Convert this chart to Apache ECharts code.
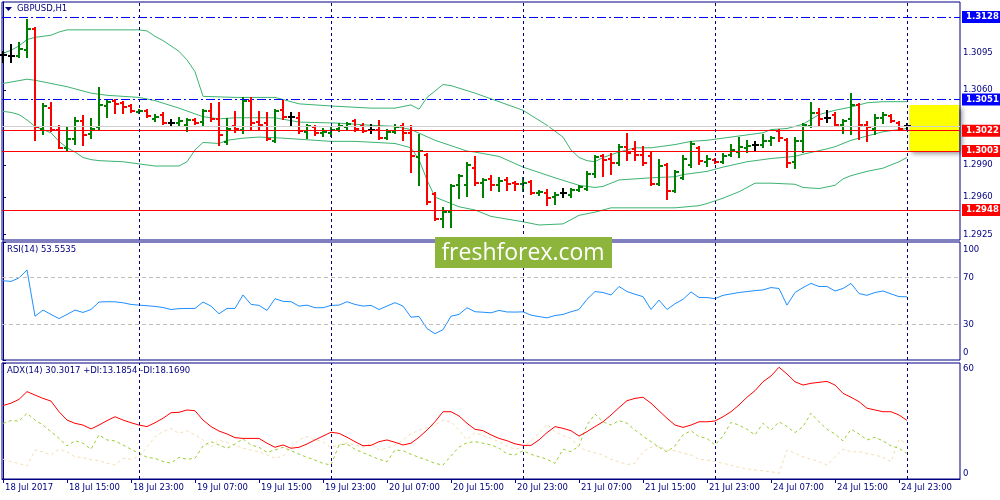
<!DOCTYPE html>
<html>
<head>
<meta charset="utf-8">
<script src="https://cdn.jsdelivr.net/npm/echarts@6/dist/echarts.min.js"></script>
<style>
  html, body { margin: 0; padding: 0; background: #fff; }
  #chart { width: 1000px; height: 500px; }
</style>
</head>
<body>
<div id="chart"></div>
<script>
// GBPUSD H1, bars 18 Jul 07:00 .. 25 Jul 00:00 (bar index 0..113)
const opens = [1.3093,1.3092,1.3092,1.3097,1.3117,1.3024,1.3043,1.3023,1.3006,1.3014,
  1.3031,1.3019,1.3025,1.3045,1.3050,1.3048,1.3045,1.3039,1.3040,1.3033,
  1.3037,1.3029,1.3029,1.3027,1.3032,1.3030,1.3040,1.3033,1.3011,1.3026,
  1.3023,1.3050,1.3030,1.3029,1.3012,1.3041,1.3035,1.3034,1.3021,1.3025,
  1.3020,1.3020,1.3024,1.3025,1.3031,1.3026,1.3023,1.3023,1.3015,1.3021,
  1.3026,1.3020,1.2997,1.2999,1.2963,1.2940,1.2946,1.2971,1.2971,1.2987,
  1.2973,1.2977,1.2971,1.2976,1.2973,1.2972,1.2974,1.2964,1.2964,1.2960,
  1.2964,1.2962,1.2967,1.2968,1.2982,1.2998,1.2996,1.2992,1.3007,1.3005,
  1.2999,1.2998,1.2972,1.2990,1.2966,1.2978,1.2990,1.3006,1.2993,1.2995,
  1.2993,1.2999,1.3002,1.3006,1.3009,1.3009,1.3012,1.3022,1.3013,1.2993,
  1.3012,1.3026,1.3038,1.3034,1.3037,1.3027,1.3033,1.3046,1.3027,1.3024,
  1.3034,1.3036,1.3029,1.3026];
const highs = [1.3095,1.3102,1.3104,1.3125,1.3118,1.3047,1.3048,1.3026,1.3025,1.3034,
  1.3036,1.3033,1.3062,1.3050,1.3051,1.3049,1.3046,1.3041,1.3041,1.3037,
  1.3038,1.3032,1.3034,1.3033,1.3033,1.3041,1.3047,1.3048,1.3033,1.3039,
  1.3052,1.3052,1.3039,1.3038,1.3041,1.3050,1.3038,1.3038,1.3027,1.3026,
  1.3024,1.3025,1.3028,1.3029,1.3032,1.3028,1.3027,1.3031,1.3023,1.3027,
  1.3028,1.3026,1.3018,1.3000,1.2964,1.2950,1.2971,1.2981,1.2992,1.2997,
  1.2977,1.2980,1.2978,1.2978,1.2974,1.2978,1.2975,1.2966,1.2967,1.2964,
  1.2968,1.2968,1.2970,1.2983,1.2998,1.2999,1.3000,1.3009,1.3019,1.3011,
  1.3007,1.3001,1.2995,1.2991,1.2984,1.2998,1.3011,1.3007,1.2998,1.2996,
  1.3000,1.3009,1.3015,1.3012,1.3011,1.3018,1.3016,1.3023,1.3014,1.3015,
  1.3028,1.3048,1.3042,1.3040,1.3038,1.3032,1.3056,1.3047,1.3030,1.3037,
  1.3038,1.3037,1.3030,1.3028];
const lows = [1.3086,1.3086,1.3091,1.3091,1.3013,1.3019,1.3022,1.3006,1.3004,1.3010,
  1.3009,1.3015,1.3024,1.3035,1.3038,1.3038,1.3039,1.3038,1.3035,1.3031,
  1.3028,1.3026,1.3026,1.3022,1.3028,1.3027,1.3031,1.3009,1.3010,1.3021,
  1.3020,1.3023,1.3024,1.3013,1.3011,1.3033,1.3027,1.3020,1.3015,1.3018,
  1.3017,1.3017,1.3022,1.3024,1.3022,1.3021,1.3020,1.3014,1.3014,1.3020,
  1.3013,1.2983,1.2971,1.2954,1.2939,1.2932,1.2932,1.2959,1.2961,1.2971,
  1.2960,1.2967,1.2966,1.2967,1.2967,1.2966,1.2963,1.2962,1.2953,1.2954,
  1.2960,1.2960,1.2966,1.2967,1.2979,1.2980,1.2982,1.2990,1.2995,1.2995,
  1.2990,1.2971,1.2971,1.2958,1.2965,1.2977,1.2988,1.2991,1.2989,1.2992,
  1.2992,1.2998,1.2997,1.3002,1.3004,1.3007,1.3009,1.3012,1.2988,1.2987,
  1.3002,1.3025,1.3027,1.3030,1.3026,1.3020,1.3019,1.3014,1.3012,1.3019,
  1.3029,1.3030,1.3023,1.3023];
const closes = [1.3093,1.3092,1.3098,1.3117,1.3025,1.3045,1.3023,1.3006,1.3014,1.3031,
  1.3018,1.3024,1.3046,1.3049,1.3047,1.3044,1.3040,1.3040,1.3036,1.3035,
  1.3029,1.3029,1.3031,1.3032,1.3029,1.3040,1.3033,1.3018,1.3024,1.3024,
  1.3050,1.3029,1.3027,1.3014,1.3040,1.3035,1.3035,1.3022,1.3026,1.3020,
  1.3021,1.3023,1.3026,1.3028,1.3024,1.3022,1.3023,1.3015,1.3021,1.3025,
  1.3020,1.2998,1.3003,1.2955,1.2940,1.2946,1.2970,1.2980,1.2990,1.2973,
  1.2976,1.2971,1.2975,1.2972,1.2972,1.2973,1.2964,1.2965,1.2959,1.2962,
  1.2964,1.2967,1.2969,1.2982,1.2997,1.2995,1.2992,1.3007,1.3001,1.2999,
  1.2992,1.2972,1.2989,1.2966,1.2983,1.2996,1.3010,1.2994,1.2996,1.2993,
  1.2998,1.3004,1.3007,1.3008,1.3009,1.3012,1.3015,1.3015,1.2992,1.3012,
  1.3027,1.3038,1.3033,1.3034,1.3027,1.3031,1.3046,1.3027,1.3025,1.3034,
  1.3037,1.3031,1.3024,1.3026];

// Bollinger bands, [bar, price]
const bbUpper = [[0,1.3094],[1,1.3097],[2,1.3101],[3,1.3107],[4,1.3109],[6,1.3111],[7,1.3114],[8,1.3116],
  [17,1.3116],[18,1.3115],[19,1.3110],[20,1.3106],[21,1.3101],[22,1.3096],[23,1.3088],[24,1.3077],
  [25,1.3054],[29,1.3053],[34,1.3053],[36,1.3049],[37,1.3047],[41,1.3045],[46,1.3043],[49,1.3043],
  [51,1.3046],[52,1.3042],[53,1.3053],[55,1.3065],[56,1.3064],[59,1.3057],[62,1.3049],[65,1.3041],
  [68,1.3027],[70,1.3016],[71,1.3004],[72,1.2997],[73,1.2994],[74,1.2993],[75,1.2997],[77,1.3002],
  [79,1.3006],[81,1.3006],[84,1.3009],[86,1.3012],[88,1.3013],[91,1.3016],[93,1.3018],[95,1.3020],
  [96,1.3023],[98,1.3024],[100,1.3028],[102,1.3037],[104,1.3041],[106,1.3044],[108,1.3048],[110,1.3049],[113,1.3049]];
const bbMiddle = [[0,1.3066],[3,1.3070],[4,1.3069],[6,1.3066],[8,1.3063],[11,1.3057],[13,1.3055],[17,1.3053],
  [19,1.3050],[22,1.3043],[25,1.3035],[27,1.3033],[29,1.3034],[34,1.3034],[37,1.3030],[42,1.3029],
  [46,1.3027],[49,1.3026],[51,1.3023],[54,1.3013],[58,1.3003],[59,1.3002],[62,1.2998],[65,1.2988],
  [69,1.2978],[72,1.2971],[74,1.2969],[75,1.2970],[77,1.2976],[81,1.2978],[84,1.2979],[85,1.2981],
  [88,1.2984],[90,1.2988],[93,1.2993],[96,1.2996],[99,1.2998],[100,1.3000],[103,1.3005],[104,1.3007],
  [106,1.3013],[108,1.3017],[110,1.3021],[113,1.3024]];
const bbLower = [[0,1.3040],[1,1.3039],[2,1.3037],[3,1.3032],[4,1.3026],[5,1.3023],[6,1.3020],[7,1.3012],
  [8,1.3006],[9,1.3002],[10,1.2997],[11,1.2995],[12,1.2994],[15,1.2993],[17,1.2991],[19,1.2989],
  [22,1.2989],[23,1.2993],[24,1.3004],[25,1.3011],[27,1.3010],[28,1.3013],[30,1.3015],[32,1.3016],
  [35,1.3015],[37,1.3014],[41,1.3012],[44,1.3012],[49,1.3010],[51,1.3006],[52,1.2995],[53,1.2976],
  [54,1.2960],[55,1.2957],[57,1.2951],[59,1.2948],[61,1.2942],[65,1.2937],[67,1.2934],[70,1.2935],
  [72,1.2943],[74,1.2946],[76,1.2950],[84,1.2950],[87,1.2952],[88,1.2954],[90,1.2959],[92,1.2965],
  [94,1.2973],[96,1.2973],[99,1.2972],[100,1.2969],[102,1.2968],[104,1.2971],[105,1.2977],[106,1.2980],
  [108,1.2984],[110,1.2987],[112,1.2993],[113,1.2997]];

// RSI(14), one value per bar
const rsi = [67.2,66.6,69.5,76.3,37.1,42.3,38.6,35.1,38.6,42.3,
  40.3,42.8,49.1,49.4,49.3,48.5,47.1,46.5,46.0,45.4,
  44.5,42.8,43.5,43.7,43.7,49.1,45.7,39.2,43.7,43.7,
  55.1,47.1,46.3,42.0,52.0,49.7,49.4,45.7,46.5,44.3,
  44.3,46.3,46.5,49.4,47.1,45.7,46.3,42.8,45.7,48.6,
  45.7,36.3,36.9,26.6,22.3,25.7,37.1,38.6,44.3,40.9,
  40.5,40.0,42.0,40.7,40.6,40.8,38.0,36.8,35.7,37.7,
  38.6,40.9,42.8,51.4,58.0,57.2,55.1,62.3,58.0,55.7,
  53.7,42.8,50.8,42.8,47.7,51.4,57.7,52.9,52.9,52.0,
  54.8,56.0,57.2,58.0,58.8,59.4,61.4,60.6,46.5,57.2,
  61.4,64.9,62.3,62.3,58.5,60.6,64.9,56.3,54.8,57.2,
  58.5,56.0,53.7,53.55];

// ADX(14), +DI, -DI, [bar, value]
const adx = [[0,38],[1,39.2],[2,41.2],[3,45.2],[4,43.4],[5,41.7],[6,40.3],[7,34.8],[8,30.5],[9,28.8],
  [10,27.9],[11,25.9],[12,27.9],[13,30.2],[14,32.2],[15,30.5],[16,29.1],[17,27.9],[18,27.1],[19,29.1],
  [20,31.4],[21,34.3],[22,34.5],[23,35.7],[24,35.3],[25,30.5],[26,27.1],[27,24.8],[28,23.3],[29,21.4],
  [30,21],[31,21],[32,21],[33,18.5],[34,16.4],[35,17.6],[36,15.9],[37,16.4],[38,18.1],[39,20.2],
  [40,22.2],[41,24.2],[42,23.6],[43,21.6],[44,19.3],[45,17.2],[46,17.4],[47,19.3],[48,20.2],[49,19],
  [50,17.6],[51,18.5],[52,21.6],[53,25.3],[54,29.6],[55,34.8],[56,34.8],[57,32.6],[58,28.8],[59,25.7],
  [60,25],[61,22.8],[62,21],[63,19.8],[64,18.2],[65,17.4],[66,17.4],[67,20.2],[68,24],[69,27.1],
  [70,26.2],[71,25],[72,22.2],[73,24.5],[74,27.1],[75,29.6],[76,33.1],[77,36.9],[78,40.5],[79,41.7],
  [80,42.3],[81,39.2],[82,35.3],[83,31.4],[84,27.9],[85,26.7],[86,27.9],[87,29.6],[88,29.6],[89,30],
  [90,32.2],[91,34.8],[92,38.3],[93,42.3],[94,45.7],[95,50.3],[96,53.3],[97,57.8],[98,54.3],[99,50.3],
  [100,48.6],[101,49.5],[102,50],[103,50.5],[104,48.6],[105,44.3],[106,42.3],[107,40],[108,36.6],[109,35.7],
  [110,34.8],[111,34.8],[112,33.1],[113,30.3]];
const plusDI = [[0,28.8],[1,30.2],[2,30],[3,34],[4,30.5],[5,27.9],[6,24.5],[7,21],[8,17.1],[9,19.8],
  [10,18.5],[11,15.4],[12,22.8],[13,20.2],[14,19.7],[15,17.6],[16,15.4],[17,13.3],[18,11.2],[19,10.7],
  [20,9],[21,8.2],[22,11.2],[23,10.2],[24,10.7],[25,17.1],[26,19.3],[27,17.6],[28,15.9],[29,18.1],
  [30,20.7],[31,17.6],[32,16.4],[33,13.8],[34,15],[35,16.4],[36,14.6],[37,12.9],[38,11.2],[39,9.8],
  [40,8.1],[41,7.2],[42,17.6],[43,18.1],[44,15.4],[45,13.6],[46,11.9],[47,10.2],[48,8.9],[49,15],
  [50,14.6],[51,12.8],[52,11.2],[53,9.8],[54,8.1],[55,7.2],[56,12],[57,16.5],[58,18.8],[59,19.3],
  [60,18.5],[61,17.6],[62,16],[63,13],[64,12.4],[65,14.6],[66,12.8],[67,11.5],[68,10.2],[69,8.1],
  [70,15.4],[71,14.1],[72,17.1],[73,27.9],[74,33.6],[75,29.6],[76,27.9],[77,30.2],[78,28.8],[79,25.3],
  [80,22.2],[81,19.3],[82,16.4],[83,14.1],[84,17.1],[85,22.8],[86,25],[87,21.9],[88,21],[89,17.6],
  [90,22.2],[91,29.3],[92,27.9],[93,25.7],[94,22.8],[95,28.8],[96,25.3],[97,29.6],[98,27.1],[99,24],
  [100,27.1],[101,34],[102,29.6],[103,25.7],[104,23.3],[105,19.7],[106,25.7],[107,23.3],[108,20.2],[109,21.6],
  [110,19.7],[111,17.1],[112,15.9],[113,13.2]];
const minusDI = [[0,10.2],[1,8.9],[2,8],[3,6.7],[4,15],[5,14],[6,12.4],[7,15.4],[8,14.1],[9,11.5],
  [10,11],[11,10],[12,9.5],[13,8.1],[14,7.2],[15,10.7],[16,10.2],[17,11.5],[18,16.4],[19,21.9],
  [20,24.5],[21,26.2],[22,23.6],[23,25],[24,22.8],[25,20.2],[26,16.7],[27,20.2],[28,18.8],[29,17.6],
  [30,15.9],[31,15],[32,14],[33,12.5],[34,10.7],[35,11.9],[36,16.4],[37,20.2],[38,21.9],[39,20.2],
  [40,19.3],[41,16.4],[42,17.6],[43,18.8],[44,17.5],[45,16.4],[46,18.5],[47,15],[48,16],[49,17.5],
  [50,20.2],[51,23.3],[52,25.3],[53,26.5],[54,28],[55,30.5],[56,29.6],[57,25.3],[58,20.2],[59,24],
  [60,22.5],[61,21],[62,19.3],[63,17],[64,15.4],[65,16.4],[66,20],[67,23.6],[68,28.4],[69,24.5],
  [70,22.5],[71,21],[72,16.4],[73,14.6],[74,13.5],[75,12.4],[76,10.2],[77,8.9],[78,7.5],[79,8.1],
  [80,14.1],[81,16.4],[82,17.1],[83,15],[84,14.6],[85,13.5],[86,12.4],[87,10.2],[88,9.8],[89,9],
  [90,8.1],[91,7.2],[92,6],[93,5.2],[94,4.7],[95,4.2],[96,3.8],[97,2.9],[98,15],[99,13.3],
  [100,11.5],[101,10.2],[102,8.9],[103,7.2],[104,11.5],[105,15.4],[106,14.1],[107,14.1],[108,13.2],[109,12.4],
  [110,11.2],[111,8.9],[112,20.5],[113,18.2]];

// axes
const timeBars = [0,8,16,24,32,40,48,56,64,72,80,88,96,104,112];
const timeLabels = ['18 Jul 2017','18 Jul 15:00','18 Jul 23:00','19 Jul 07:00','19 Jul 15:00',
  '19 Jul 23:00','20 Jul 07:00','20 Jul 15:00','20 Jul 23:00','21 Jul 07:00','21 Jul 15:00',
  '21 Jul 23:00','24 Jul 07:00','24 Jul 15:00','24 Jul 23:00'];
const dayStarts = [17,41,65,89,113];
const priceTicks = [1.2925,1.2960,1.2990,1.3060,1.3095];
const rsiTicks = [0,30,70,100];
const adxTicks = [0,60];

// levels drawn on the price panel
const blueLevels = [1.3128,1.3051];
const redLevels = [1.3022,1.3003,1.2948];
const bidPrice = 1.3026;
const zoneBox = [[113.3,1.3046],[119.5,1.3003]];

const navy = '#000080';
const font = { fontFamily: 'DejaVu Sans', fontSize: 8.5, color: navy };

var chart = echarts.init(document.getElementById('chart'));

const ohlc = opens.map((o, i) => [i, o, highs[i], lows[i], closes[i]]);

function renderBar(params, api) {
  const i = api.value(0);
  const o = api.coord([i, api.value(1)]);
  const h = api.coord([i, api.value(2)]);
  const l = api.coord([i, api.value(3)]);
  const c = api.coord([i, api.value(4)]);
  const up = api.value(4) > api.value(1), dn = api.value(4) < api.value(1);
  const col = up ? '#008000' : (dn ? '#ff0000' : '#000000');
  const x = Math.round(h[0]);
  const st = { stroke: col, lineWidth: 2 };
  return {
    type: 'group',
    children: [
      { type: 'line', shape: { x1: x, y1: Math.round(h[1]) - 1, x2: x, y2: Math.round(l[1]) + 1 }, style: st },
      { type: 'line', shape: { x1: x - 3, y1: Math.round(o[1]), x2: x, y2: Math.round(o[1]) }, style: st },
      { type: 'line', shape: { x1: x, y1: Math.round(c[1]), x2: x + 4, y2: Math.round(c[1]) }, style: st }
    ]
  };
}

const sepLines = dayStarts.map(d => ({ xAxis: d }));
const sepStyle = { color: navy, type: [3, 3], width: 1 };

function levelLine(v, color, type, box) {
  return {
    yAxis: v,
    lineStyle: { color: color, type: type, width: 1 },
    label: box ? {
      show: true, position: 'end', distance: 2, formatter: v.toFixed(4),
      color: '#fff', backgroundColor: box, padding: [2, 6, 1, 4],
      fontFamily: 'DejaVu Sans', fontSize: 8.5, fontWeight: 'bold'
    } : { show: false }
  };
}

const priceLevels = [levelLine(bidPrice, '#d0d0d0', 'solid', null)]
  .concat(blueLevels.map(v => levelLine(v, '#0000ff', [9, 3, 2, 3], '#0000ff')))
  .concat(redLevels.map(v => levelLine(v, '#ff0000', 'solid', '#ff0000')));

function bandSeries(data, extra) {
  return Object.assign({ type: 'line', xAxisIndex: 0, yAxisIndex: 0, data: data, symbol: 'none',
    lineStyle: { color: '#3cb371', width: 1 }, z: 2, silent: true }, extra || {});
}

const gridBox = { show: true, borderColor: navy, borderWidth: 1, left: 2, width: 958 };

chart.setOption({
  animation: false,
  backgroundColor: '#fff',
  grid: [
    Object.assign({ top: 2, height: 238 }, gridBox),
    Object.assign({ top: 242, height: 118 }, gridBox),
    Object.assign({ top: 363, height: 116 }, gridBox)
  ],
  xAxis: [0, 1, 2].map(g => ({
    type: 'value', gridIndex: g, min: -0.125, max: 119.625, show: g === 2,
    axisLine: { show: true, lineStyle: { color: navy } },
    axisTick: { show: true, customValues: timeBars, length: 4, lineStyle: { color: navy } },
    axisLabel: Object.assign({
      customValues: timeBars, align: 'left', margin: 4, padding: [0, 0, 0, 2],
      formatter: v => timeLabels[timeBars.indexOf(Math.round(v))] || ''
    }, font),
    splitLine: { show: false }
  })),
  yAxis: [
    { type: 'value', gridIndex: 0, position: 'right', min: 1.2920, max: 1.3142,
      axisLine: { show: true, lineStyle: { color: navy } },
      axisTick: { show: true, customValues: priceTicks, length: 3, lineStyle: { color: navy } },
      axisLabel: Object.assign({ customValues: priceTicks, margin: 3, formatter: v => v.toFixed(4) }, font),
      splitLine: { show: false } },
    { type: 'value', gridIndex: 1, position: 'right', min: 0, max: 100,
      axisLine: { show: true, lineStyle: { color: navy } },
      axisTick: { show: true, customValues: rsiTicks, length: 3, lineStyle: { color: navy } },
      axisLabel: Object.assign({ customValues: rsiTicks, margin: 3, padding: [3, 0, 3, 0],
        verticalAlignMinLabel: 'bottom', verticalAlignMaxLabel: 'top' }, font),
      splitLine: { show: false } },
    { type: 'value', gridIndex: 2, position: 'right', min: 0, max: 60,
      axisLine: { show: true, lineStyle: { color: navy } },
      axisTick: { show: true, customValues: adxTicks, length: 3, lineStyle: { color: navy } },
      axisLabel: Object.assign({ customValues: adxTicks, margin: 3, padding: [1, 0, 1, 0],
        verticalAlignMinLabel: 'bottom', verticalAlignMaxLabel: 'top' }, font),
      splitLine: { show: false } }
  ],
  series: [
    bandSeries(bbUpper),
    // middle band also carries the level lines and day separators of the price panel
    bandSeries(bbMiddle, {
      markLine: { silent: true, precision: 4, symbol: ['none', 'none'], label: { show: false },
        data: priceLevels.concat(sepLines.map(s => Object.assign({ lineStyle: sepStyle }, s))) }
    }),
    bandSeries(bbLower),
    { type: 'custom', xAxisIndex: 0, yAxisIndex: 0, data: ohlc, renderItem: renderBar,
      encode: { x: 0, y: [1, 2, 3, 4] }, z: 3, silent: true },
    // yellow zone
    { type: 'line', xAxisIndex: 0, yAxisIndex: 0, data: [], z: 10, silent: true,
      markArea: { silent: true,
        itemStyle: { color: '#ffff00', shadowBlur: 5, shadowColor: 'rgba(0,0,0,0.45)', shadowOffsetX: 3, shadowOffsetY: 3 },
        data: [[{ coord: zoneBox[0] }, { coord: zoneBox[1] }]] } },
    // RSI panel
    { type: 'line', xAxisIndex: 1, yAxisIndex: 1, data: rsi.map((v, i) => [i, v]), symbol: 'none',
      lineStyle: { color: '#1e90ff', width: 1 }, z: 3, silent: true,
      markLine: { silent: true, symbol: ['none', 'none'], label: { show: false },
        data: [
          { yAxis: 70, lineStyle: { color: '#c0c0c0', type: [4, 3], width: 1 } },
          { yAxis: 30, lineStyle: { color: '#c0c0c0', type: [4, 3], width: 1 } }
        ].concat(sepLines.map(s => Object.assign({ lineStyle: sepStyle }, s))) } },
    // ADX panel
    { type: 'line', xAxisIndex: 2, yAxisIndex: 2, data: minusDI, symbol: 'none',
      lineStyle: { color: '#f5deb3', width: 1, type: [3, 3] }, z: 2, silent: true,
      markLine: { silent: true, symbol: ['none', 'none'], label: { show: false },
        data: sepLines.map(s => Object.assign({ lineStyle: sepStyle }, s)) } },
    { type: 'line', xAxisIndex: 2, yAxisIndex: 2, data: plusDI, symbol: 'none',
      lineStyle: { color: '#9acd32', width: 1, type: [3, 3] }, z: 2, silent: true },
    { type: 'line', xAxisIndex: 2, yAxisIndex: 2, data: adx, symbol: 'none',
      lineStyle: { color: '#ff0000', width: 1 }, z: 3, silent: true }
  ],
  graphic: [
    { type: 'polygon', shape: { points: [[5, 7], [12, 7], [8.5, 11]] }, style: { fill: navy }, z: 20 },
    { type: 'text', left: 17, top: 4, style: { text: 'GBPUSD,H1', fill: navy, font: '8.5px "DejaVu Sans"' }, z: 20 },
    { type: 'text', left: 7, top: 245, style: { text: 'RSI(14) 53.5535', fill: navy, font: '8.5px "DejaVu Sans"' }, z: 20 },
    { type: 'text', left: 7, top: 366, style: { text: 'ADX(14) 30.3017 +DI:13.1854 -DI:18.1690', fill: navy, font: '8.5px "DejaVu Sans"' }, z: 20 },
    { type: 'rect', shape: { x: 435, y: 237, width: 177, height: 31 }, style: { fill: '#8db53c' }, z: 30 },
    { type: 'text', x: 523, y: 253, style: { text: 'freshforex.com', fill: '#fff', font: '23px "Open Sans"', align: 'center', verticalAlign: 'middle' }, z: 31 }
  ]
});
</script>
</body>
</html>
